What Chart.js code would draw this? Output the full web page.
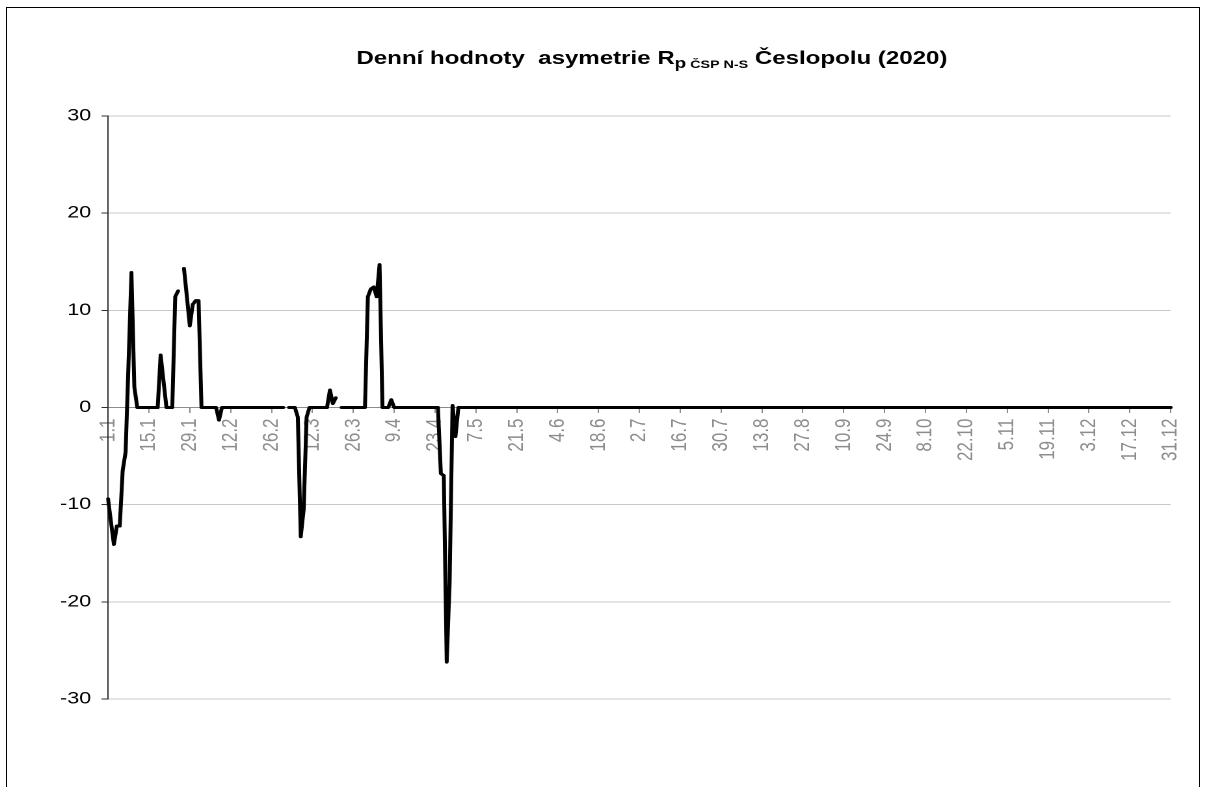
<!DOCTYPE html>
<html>
<head>
<meta charset="utf-8">
<title>Denní hodnoty asymetrie Rp ČSP N-S Česlopolu (2020)</title>
<script src="https://cdn.jsdelivr.net/npm/chart.js@4.4.1/dist/chart.umd.min.js"></script>
<style>
  html, body { margin: 0; padding: 0; background: #fff; overflow: hidden; }
  #frame { position: absolute; left: 6px; top: 7px; width: 1192px; height: 900px; border: 1px solid #000; border-bottom: none; }
  /* the reference picture is stretched sideways, so the chart is drawn narrow and widened */
  #wrap { position: absolute; left: 0; top: 0; width: 928.46px; height: 787px; transform: scaleX(1.3); transform-origin: 0 0; }
</style>
</head>
<body>
<div id="frame"></div>
<div id="wrap"><canvas id="chart-asym"></canvas></div>
<script>
// ── DATA ──────────────────────────────────────────────────────
// tick labels, one every 14 days
const tickLabels = ['1.1','15.1','29.1','12.2','26.2','12.3','26.3','9.4','23.4','7.5','21.5','4.6','18.6','2.7',
  '16.7','30.7','13.8','27.8','10.9','24.9','8.10','22.10','5.11','19.11','3.12','17.12','31.12'];

// daily values, one row = 14 days (null = no value)
const asymmetry = [
  -9.4, -11.8, -14.1, -12.2, -12.2, -6.5, -4.6, 4.5, 13.9, 2.1, 0, 0, 0, 0,
  0, 0, 0, 0, 5.4, 2.7, 0, 0, 0, 11.4, 12.0, null, 14.3, 11.4,
  8.4, 10.6, 11.0, 11.0, 0, 0, 0, 0, 0, 0, -1.3, 0, 0, 0,
  0, 0, 0, 0, 0, 0, 0, 0, 0, 0, 0, 0, 0, 0,
  0, 0, 0, 0, 0, null, 0, 0, 0, -1.0, -13.3, -10.5, -1.0, 0,
  0, 0, 0, 0, 0, 0, 1.8, 0.4, 1.0, null, 0, 0, 0, 0,
  0, 0, 0, 0, 0, 11.4, 12.2, 12.4, 11.4, 14.7, 0, 0, 0, 0.8,
  0, 0, 0, 0, 0, 0, 0, 0, 0, 0, 0, 0, 0, 0,
  0, 0, -6.8, -7.0, -26.2, -18.0, 0.2, -3.0, 0, 0, 0, 0, 0, 0,
  0, 0, 0, 0, 0, 0, 0, 0, 0, 0, 0, 0, 0, 0,
  0, 0, 0, 0, 0, 0, 0, 0, 0, 0, 0, 0, 0, 0,
  0, 0, 0, 0, 0, 0, 0, 0, 0, 0, 0, 0, 0, 0,
  0, 0, 0, 0, 0, 0, 0, 0, 0, 0, 0, 0, 0, 0,
  0, 0, 0, 0, 0, 0, 0, 0, 0, 0, 0, 0, 0, 0,
  0, 0, 0, 0, 0, 0, 0, 0, 0, 0, 0, 0, 0, 0,
  0, 0, 0, 0, 0, 0, 0, 0, 0, 0, 0, 0, 0, 0,
  0, 0, 0, 0, 0, 0, 0, 0, 0, 0, 0, 0, 0, 0,
  0, 0, 0, 0, 0, 0, 0, 0, 0, 0, 0, 0, 0, 0,
  0, 0, 0, 0, 0, 0, 0, 0, 0, 0, 0, 0, 0, 0,
  0, 0, 0, 0, 0, 0, 0, 0, 0, 0, 0, 0, 0, 0,
  0, 0, 0, 0, 0, 0, 0, 0, 0, 0, 0, 0, 0, 0,
  0, 0, 0, 0, 0, 0, 0, 0, 0, 0, 0, 0, 0, 0,
  0, 0, 0, 0, 0, 0, 0, 0, 0, 0, 0, 0, 0, 0,
  0, 0, 0, 0, 0, 0, 0, 0, 0, 0, 0, 0, 0, 0,
  0, 0, 0, 0, 0, 0, 0, 0, 0, 0, 0, 0, 0, 0,
  0, 0, 0, 0, 0, 0, 0, 0, 0, 0, 0, 0, 0, 0,
  0,
];

const yTicks = [-30, -20, -10, 0, 10, 20, 30];

// category per day, label only on every 14th
const dayLabels = asymmetry.map((_, i) => (i % 14 === 0 ? tickLabels[i / 14] : ''));

// ── TITLE WITH SUBSCRIPT ──────────────────────────────────────
const FONT = '"Liberation Sans", Arial, sans-serif';
const titleParts = [
  { text: 'Denní hodnoty  asymetrie R', size: 18.5, dy: 0 },
  { text: 'p', size: 14.5, dy: 4 },
  { text: ' ČSP N-S', size: 11, dy: 4 },
  { text: ' Česlopolu (2020)', size: 18.5, dy: 0 },
];

const titlePlugin = {
  id: 'subTitle',
  afterDraw(chart) {
    const ctx = chart.ctx;
    ctx.save();
    ctx.fillStyle = '#000';
    ctx.textBaseline = 'alphabetic';
    ctx.textAlign = 'left';
    let total = 0;
    titleParts.forEach(p => {
      ctx.font = 'bold ' + p.size + 'px ' + FONT;
      p.w = ctx.measureText(p.text).width;
      total += p.w;
    });
    let x = 501.2 - total / 2;
    titleParts.forEach(p => {
      ctx.font = 'bold ' + p.size + 'px ' + FONT;
      ctx.fillText(p.text, x, 64 + p.dy);
      x += p.w;
    });
    ctx.restore();
  },
};

// ── CHART ─────────────────────────────────────────────────────
const ctx = document.getElementById('chart-asym').getContext('2d');
new Chart(ctx, {
  type: 'line',
  data: {
    labels: dayLabels,
    datasets: [{
      data: asymmetry,
      borderColor: '#000',
      borderWidth: 3,
      borderJoinStyle: 'round',
      borderCapStyle: 'round',
      pointRadius: 0,
      tension: 0,
      spanGaps: false,
    }],
  },
  options: {
    responsive: true, maintainAspectRatio: false,
    animation: false,
    devicePixelRatio: 2,
    layout: { padding: { left: 23.08, right: 28.46, top: 116, bottom: 88 } },
    plugins: { legend: { display: false }, tooltip: { enabled: false }, title: { display: false } },
    scales: {
      x: {
        type: 'category',
        position: { y: 0 },
        offset: false,
        grid: { drawOnChartArea: false, drawTicks: true, tickLength: 5, color: '#8c8c8c' },
        border: { color: '#8c8c8c' },
        ticks: {
          autoSkip: false, minRotation: 90, maxRotation: 90, padding: 6,
          color: '#8c8c8c', font: { family: FONT, size: 17 },
          callback: (v, i) => dayLabels[i] || null,
        },
      },
      y: {
        min: yTicks[0], max: yTicks[yTicks.length - 1],
        afterFit: s => { s.width = 60; },
        afterBuildTicks: s => { s.ticks = yTicks.map(v => ({ value: v })); },
        grid: { color: '#c8c8c8', tickColor: '#303030', tickLength: 5 },
        border: { color: '#303030' },
        ticks: { color: '#000', padding: 8, font: { family: FONT, size: 16.5 } },
      },
    },
  },
  plugins: [titlePlugin],
});
</script>
</body>
</html>
